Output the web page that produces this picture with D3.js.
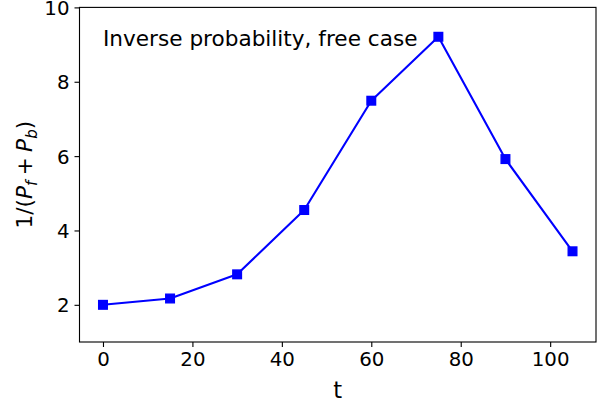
<!DOCTYPE html>
<html>
<head>
<meta charset="utf-8">
<script src="https://cdn.jsdelivr.net/npm/d3@7"></script>
<style>
  html, body { margin: 0; padding: 0; background: #fff; }
  svg { display: block; font-family: "DejaVu Sans", sans-serif; }
</style>
</head>
<body>
<svg id="chart" width="600" height="407"></svg>
<script>
// Data
const tValues = [0, 15, 30, 45, 60, 75, 90, 105];
const invProb = [2.0, 2.17, 2.82, 4.55, 7.49, 9.21, 5.92, 3.44];
const xTicks = [0, 20, 40, 60, 80, 100];
const yTicks = [2, 4, 6, 8, 10];
const annotation = "Inverse probability, free case";
const xLabel = "t";

const svg = d3.select("#chart");
const pLeft = 79.5, pRight = 596, pTop = 7.4, pBottom = 342;
const fs = 19.8;      // tick labels
const fsAnn = 21.6;   // annotation
const fsLab = 21.6;   // axis labels

const x = d3.scaleLinear().domain([-5.25, 110.25]).range([pLeft, pRight]);
const y = d3.scaleLinear().domain([1, 10]).range([pBottom, pTop]);

// Axes
const xAxis = d3.axisBottom(x).tickValues(xTicks).tickSize(5).tickPadding(5).tickFormat(d3.format("d"));
const yAxis = d3.axisLeft(y).tickValues(yTicks).tickSize(5).tickPadding(5).tickFormat(d3.format("d"));

const gx = svg.append("g").attr("transform", `translate(0,${pBottom})`).call(xAxis);
const gy = svg.append("g").attr("transform", `translate(${pLeft},0)`).call(yAxis);
[gx, gy].forEach(g => {
  g.select(".domain").remove();
  g.selectAll(".tick line").attr("stroke", "#000").attr("stroke-width", 1.11);
  g.selectAll(".tick text").attr("fill", "#000").style("font-size", fs + "px").style("font-family", "DejaVu Sans");
});
gy.selectAll(".tick text").attr("dy", "0.36em");

// Frame
svg.append("rect")
  .attr("x", pLeft).attr("y", pTop)
  .attr("width", pRight - pLeft).attr("height", pBottom - pTop)
  .attr("fill", "none").attr("stroke", "#000").attr("stroke-width", 1.11);

// Line
const line = d3.line().x((d, i) => x(tValues[i])).y(d => y(d));
svg.append("path")
  .datum(invProb)
  .attr("d", line)
  .attr("fill", "none")
  .attr("stroke", "#0000ff")
  .attr("stroke-width", 2.1)
  .attr("stroke-linejoin", "round");

// Markers
const ms = 8.6;
svg.append("g").selectAll("rect")
  .data(invProb)
  .join("rect")
  .attr("x", (d, i) => x(tValues[i]) - ms / 2)
  .attr("y", d => y(d) - ms / 2)
  .attr("width", ms).attr("height", ms)
  .attr("fill", "#0000ff")
  .attr("stroke", "#0000ff")
  .attr("stroke-width", 1.4);

// Annotation
svg.append("text")
  .attr("x", 103).attr("y", 46)
  .style("font-size", fsAnn + "px")
  .attr("fill", "#000")
  .text(annotation);

// X label
svg.append("text")
  .attr("x", (pLeft + pRight) / 2).attr("y", 398)
  .attr("text-anchor", "middle")
  .style("font-size", (fsLab + 1) + "px")
  .attr("fill", "#000")
  .text(xLabel);

// Y label (mathtext style)
const yl = svg.append("text")
  .attr("transform", `translate(32,${(pTop + pBottom) / 2}) rotate(-90)`)
  .attr("text-anchor", "middle")
  .style("font-size", fsLab + "px")
  .attr("fill", "#000");
yl.append("tspan").text("1/(");
yl.append("tspan").style("font-style", "italic").text("P");
yl.append("tspan").style("font-style", "italic").style("font-size", (fsLab * 0.7) + "px").attr("dy", 4.5).text("f");
yl.append("tspan").attr("dy", -4.5).text("\u2005+\u2005");
yl.append("tspan").style("font-style", "italic").text("P");
yl.append("tspan").style("font-style", "italic").style("font-size", (fsLab * 0.7) + "px").attr("dy", 4.5).text("b");
yl.append("tspan").attr("dy", -4.5).text(")");
</script>
</body>
</html>
